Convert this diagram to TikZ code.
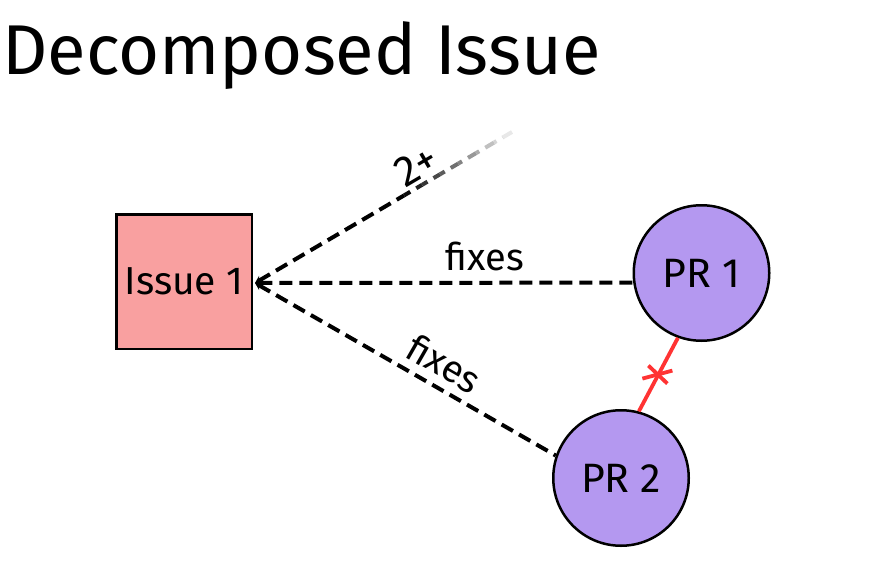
\documentclass[tikz,border=0pt]{standalone}
\usepackage{fontspec}
\setmainfont{Fira Sans}
\usetikzlibrary{arrows.meta,calc}
\definecolor{issuefill}{RGB}{249,160,160}
\definecolor{prfill}{RGB}{180,152,240}
\definecolor{xred}{RGB}{255,51,51}
\begin{document}
\begin{tikzpicture}[x=1pt,y=-1pt,
  lbl/.style={font=\fontsize{38}{38}\selectfont, inner xsep=0pt, anchor=south},
  issuebox/.style={draw, line width=2.5pt, fill=issuefill, minimum width=135.5pt, minimum height=134.5pt, inner sep=0pt, font=\fontsize{39}{39}\selectfont},
  prnode/.style={circle, draw, line width=2.5pt, fill=prfill, minimum size=135.5pt, inner sep=0pt, font=\fontsize{41}{41}\selectfont},
  conn/.style={line width=4pt, dash pattern=on 13pt off 7pt},
  srctip/.style={{Stealth[length=7pt,width=8pt]}-},
  redline/.style={xred, line width=3.8pt}
]
\useasboundingbox (0,0) rectangle (877,588);
\node[anchor=base west, inner sep=0pt, font=\fontsize{70.5}{70.5}\selectfont] (title) at (2,75) {Decomposed Issue};
\node[issuebox] (iss) at (184,281.5) {Issue 1};
\node[prnode] (pr1) at (701.5,273) {PR 1};
\node[prnode] (pr2) at (621,478) {PR 2};
\coordinate (src) at (255,283);
\coordinate (fe) at (512,132);
% horizontal
\draw[conn, srctip] (src) -- node[lbl, pos=0.608, inner ysep=10pt] {fixes} (pr1.188);
% lower
\draw[conn, srctip] (src) -- node[lbl, sloped, pos=0.589, inner ysep=8pt] {fixes} (pr2.161);
% upper fading line
\draw[conn, srctip] (src) -- ($(src)!0.58!(fe)$);
\foreach \i in {0,...,11} {
  \pgfmathsetmacro\ta{0.58+0.035*\i}
  \pgfmathsetmacro\tb{\ta+0.035}
  \pgfmathsetmacro\pc{95-7.8*\i}
  \pgfmathsetmacro\ph{\ta*298-7}
  \draw[conn, color=black!\pc, dash phase=\ph pt] ($(src)!\ta!(fe)$) -- ($(src)!\tb!(fe)$);
}
\path (src) -- node[lbl, sloped, pos=0.667, inner ysep=5pt, font=\fontsize{43}{43}\selectfont] {2+} (fe);
% red conflict
\draw[redline] (pr1.250) -- coordinate[pos=0.5] (mid) (pr2.75);
\draw[redline] ([shift={(-10,-9)}]mid) -- ([shift={(9,9)}]mid);
\draw[redline] ([shift={(-16,4)}]mid) -- ([shift={(14,-4)}]mid);
\end{tikzpicture}
\end{document}
